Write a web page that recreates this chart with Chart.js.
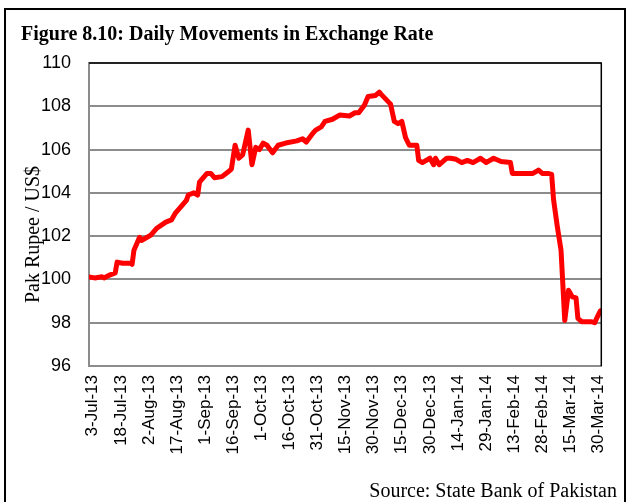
<!DOCTYPE html>
<html>
<head>
<meta charset="utf-8">
<script src="https://cdn.jsdelivr.net/npm/chart.js@4"></script>
<style>
  html, body { margin: 0; padding: 0; background: #fff; }
  #wrap { width: 628px; height: 502px; position: relative; }
</style>
</head>
<body>
<div id="wrap"><canvas id="rateChart"></canvas></div>
<script>
// Daily PKR / US$ rate
const rateDates = [
  "2013-07-01", "2013-07-04", "2013-07-08", "2013-07-09", "2013-07-12", "2013-07-15", "2013-07-16",
  "2013-07-19", "2013-07-23", "2013-07-24", "2013-07-25", "2013-07-28", "2013-07-29",
  "2013-08-03", "2013-08-06", "2013-08-11", "2013-08-14", "2013-08-16", "2013-08-19", "2013-08-22",
  "2013-08-23", "2013-08-26", "2013-08-28", "2013-08-29", "2013-08-30",
  "2013-09-02", "2013-09-04", "2013-09-06", "2013-09-10", "2013-09-13", "2013-09-15", "2013-09-17",
  "2013-09-19", "2013-09-21", "2013-09-24", "2013-09-26", "2013-09-28", "2013-09-30",
  "2013-10-02", "2013-10-04", "2013-10-07", "2013-10-10", "2013-10-14", "2013-10-20", "2013-10-23",
  "2013-10-25", "2013-10-28", "2013-10-30",
  "2013-11-02", "2013-11-04", "2013-11-08", "2013-11-12", "2013-11-17", "2013-11-20", "2013-11-22",
  "2013-11-25", "2013-11-27",
  "2013-12-01", "2013-12-03", "2013-12-04", "2013-12-09", "2013-12-11", "2013-12-13", "2013-12-15",
  "2013-12-17", "2013-12-19", "2013-12-23", "2013-12-24", "2013-12-26", "2013-12-30",
  "2014-01-01", "2014-01-02", "2014-01-04", "2014-01-08", "2014-01-10", "2014-01-13", "2014-01-16",
  "2014-01-19", "2014-01-22", "2014-01-26", "2014-01-29",
  "2014-02-02", "2014-02-06", "2014-02-11", "2014-02-12", "2014-02-15", "2014-02-23", "2014-02-26",
  "2014-02-28",
  "2014-03-03", "2014-03-05", "2014-03-06", "2014-03-08", "2014-03-10", "2014-03-12", "2014-03-14",
  "2014-03-16", "2014-03-18", "2014-03-19", "2014-03-21", "2014-03-26", "2014-03-28", "2014-03-29",
  "2014-03-31"
];
const rateValues = [
  100.12, 100.07, 100.12, 100.07, 100.2, 100.3, 100.8,
  100.75, 100.75, 100.7, 101.35, 101.95, 101.8,
  102.05, 102.35, 102.65, 102.75, 103.05, 103.35, 103.65,
  103.9, 104.0, 103.9, 104.5, 104.6,
  104.9, 104.9, 104.7, 104.75, 104.95, 105.1, 106.2,
  105.6, 105.75, 106.9, 105.3, 106.1, 106.0,
  106.3, 106.2, 105.85, 106.2, 106.3, 106.4, 106.5,
  106.35, 106.7, 106.9,
  107.05, 107.3, 107.4, 107.6, 107.55, 107.7, 107.7,
  108.05, 108.45,
  108.5, 108.65, 108.55, 108.1, 107.3, 107.2, 107.3,
  106.55, 106.2, 106.2, 105.5, 105.4, 105.6,
  105.3, 105.6, 105.3, 105.6, 105.6, 105.55, 105.4,
  105.5, 105.4, 105.6, 105.4,
  105.6, 105.45, 105.4, 104.9, 104.9, 104.9, 105.05,
  104.9,
  104.9, 104.85, 103.7, 102.45, 101.35, 98.1, 99.5,
  99.2, 99.15, 98.2, 98.05, 98.05, 98.0, 98.2,
  98.55
];
const tickLabels = [
  "3-Jul-13", "18-Jul-13", "2-Aug-13", "17-Aug-13", "1-Sep-13", "16-Sep-13", "1-Oct-13",
  "16-Oct-13", "31-Oct-13", "15-Nov-13", "30-Nov-13", "15-Dec-13", "30-Dec-13", "14-Jan-14",
  "29-Jan-14", "13-Feb-14", "28-Feb-14", "15-Mar-14", "30-Mar-14"
];
const yTicks = [96, 98, 100, 102, 104, 106, 108, 110];

// day offset from the first tick date (3-Jul-13)
const baseDay = Date.UTC(2013, 6, 3);
function dayOf(str) {
  const p = str.split("-").map(Number);
  return (Date.UTC(p[0], p[1] - 1, p[2]) - baseDay) / 86400000;
}
function dayOfLabel(lbl) {
  const months = { Jan: 0, Feb: 1, Mar: 2, Apr: 3, May: 4, Jun: 5, Jul: 6, Aug: 7, Sep: 8, Oct: 9, Nov: 10, Dec: 11 };
  const p = lbl.split("-");
  return (Date.UTC(2000 + Number(p[2]), months[p[1]], Number(p[0])) - baseDay) / 86400000;
}

const points = rateDates.map((d, i) => ({ x: dayOf(d), y: rateValues[i] }));
const tickDays = tickLabels.map(dayOfLabel);

const GRID = "#8c8c8c";
const SERIF = "'Liberation Serif', 'Times New Roman', serif";

const figureDecor = {
  id: "figureDecor",
  beforeDraw(chart) {
    const ctx = chart.ctx;
    ctx.save();
    ctx.fillStyle = "#fff";
    ctx.fillRect(0, 0, chart.width, chart.height);
    ctx.restore();
  },
  afterDraw(chart) {
    const ctx = chart.ctx;
    const area = chart.chartArea;
    ctx.save();

    // plot area top / right edge
    ctx.strokeStyle = "#000";
    ctx.lineWidth = 1.5;
    ctx.beginPath();
    ctx.moveTo(area.left, area.top);
    ctx.lineTo(area.right, area.top);
    ctx.lineTo(area.right, area.bottom);
    ctx.stroke();

    // outer frame
    ctx.lineWidth = 2;
    ctx.beginPath();
    ctx.moveTo(5, chart.height + 5);
    ctx.lineTo(5, 9);
    ctx.lineTo(625, 9);
    ctx.lineTo(625, chart.height + 5);
    ctx.stroke();

    // title
    ctx.fillStyle = "#000";
    ctx.font = "bold 20px " + SERIF;
    ctx.textAlign = "left";
    ctx.textBaseline = "alphabetic";
    ctx.fillText("Figure 8.10: Daily Movements in Exchange Rate", 21, 40);

    // source
    ctx.font = "20px " + SERIF;
    ctx.textAlign = "right";
    ctx.fillText("Source: State Bank of Pakistan", 617, 497);

    // y axis title
    ctx.translate(34, (area.top + area.bottom) / 2 + 20);
    ctx.rotate(-Math.PI / 2);
    ctx.textAlign = "center";
    ctx.textBaseline = "middle";
    ctx.fillText("Pak Rupee / US$", 0, 0);
    ctx.restore();
  }
};

new Chart(document.getElementById("rateChart"), {
  type: "line",
  data: {
    datasets: [
      {
        data: points,
        borderColor: "#ff0000",
        backgroundColor: "#ff0000",
        borderWidth: 5,
        pointRadius: 0,
        tension: 0,
        borderJoinStyle: "round",
        borderCapStyle: "round",
      },
    ],
  },
  options: {
    responsive: true,
    maintainAspectRatio: false,
    animation: false,
    layout: {
      padding: { top: 63, right: 21, left: 0, bottom: 0 },
    },
    plugins: {
      legend: { display: false },
      title: { display: false },
      tooltip: { enabled: false },
    },
    scales: {
      x: {
        type: "linear",
        min: -2,
        max: 271.5,
        afterBuildTicks: (scale) => {
          scale.ticks = tickDays.map((v) => ({ value: v }));
        },
        afterFit: (scale) => {
          scale.height = 136;
        },
        ticks: {
          autoSkip: false,
          minRotation: 90,
          maxRotation: 90,
          padding: 9,
          color: "#000",
          font: { family: "'Liberation Sans', Arial, sans-serif", size: 17 },
          callback: (value, index) => tickLabels[index],
        },
        grid: { display: false, drawTicks: false },
        border: { display: true, color: GRID, width: 2 },
      },
      y: {
        min: 96,
        max: 110,
        afterBuildTicks: (scale) => {
          scale.ticks = yTicks.map((v) => ({ value: v }));
        },
        afterFit: (scale) => {
          scale.width = 89;
        },
        ticks: {
          padding: 18,
          color: "#000",
          font: { family: "'Liberation Sans', Arial, sans-serif", size: 18 },
        },
        grid: { color: GRID, lineWidth: 2, drawTicks: false },
        border: { display: true, color: GRID, width: 2 },
      },
    },
  },
  plugins: [figureDecor],
});
</script>
</body>
</html>
